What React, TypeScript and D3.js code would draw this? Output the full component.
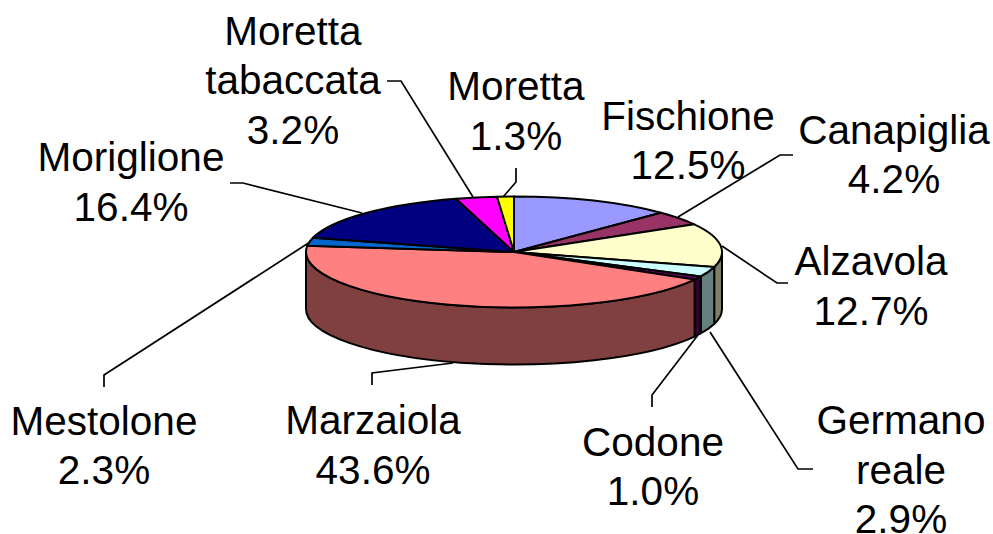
import React from "react";
import * as d3 from "d3";

const W = 993;
const H = 534;

const species = ["Fischione", "Canapiglia", "Alzavola", "Germano reale", "Codone", "Marzaiola", "Mestolone", "Moriglione", "Moretta tabaccata", "Moretta"];
const shares = [12.5, 4.2, 12.7, 2.9, 1.0, 43.6, 2.3, 16.4, 3.2, 1.3];
const topColors = ["#9999ff", "#993366", "#ffffcc", "#ccffff", "#660066", "#ff8080", "#0066cc", "#000080", "#ff00ff", "#ffff00"];

// label text layout: lines per species, centre x, first baseline y
const labelLines = [["Fischione", "12.5%"], ["Canapiglia", "4.2%"], ["Alzavola", "12.7%"], ["Germano", "reale", "2.9%"], ["Codone", "1.0%"], ["Marzaiola", "43.6%"], ["Mestolone", "2.3%"], ["Moriglione", "16.4%"], ["Moretta", "tabaccata", "3.2%"], ["Moretta", "1.3%"]];
const labelX = [688, 894, 871, 901, 653, 373, 104, 131, 293, 516];
const labelY = [129.5, 143.5, 275, 434, 455.5, 434, 434.5, 171, 44.5, 100];

// leader lines, from the pie rim out to the label
const leaders = [
  null,
  [[678, 217], [780, 155], [793, 155]],
  [[722, 246], [777, 283], [788, 283]],
  [[710, 332], [798, 469], [813, 469]],
  [[698, 335], [652, 395], [652, 407]],
  [[453, 363], [372, 373], [372, 385]],
  [[310, 242], [104, 375], [104, 387]],
  [[362, 213], [243, 183], [230, 183]],
  [[473, 197], [401, 81], [387, 81]],
  [[503, 197], [516, 182], [516, 168]],
];

const cx = 514;
const cy = 252;
const rx = 208;
const ry = 55.5;
const depth = 57;
const lineHeight = 49.5;

const shade = (c: string) => {
  const { r, g, b } = d3.rgb(c);
  return d3.rgb(r / 2, g / 2, b / 2).formatHex();
};

export default function App() {
  const slices = d3.pie<number>().sort(null).value((d) => d)(shares);
  const arc = d3.arc<d3.PieArcDatum<number>>().innerRadius(0).outerRadius(rx);

  const px = (a: number) => cx + rx * Math.sin(a);
  const py = (a: number) => cy - ry * Math.cos(a);

  // outer wall, only the part of each slice facing the viewer
  const wall = (d: d3.PieArcDatum<number>) => {
    const a0 = Math.max(d.startAngle, Math.PI / 2);
    const a1 = Math.min(d.endAngle, (3 * Math.PI) / 2);
    if (a1 <= a0) return null;
    return `M${px(a0)},${py(a0)}A${rx},${ry} 0 0 1 ${px(a1)},${py(a1)}L${px(a1)},${py(a1) + depth}A${rx},${ry} 0 0 0 ${px(a0)},${py(a0) + depth}Z`;
  };
  const leaderLine = d3.line();

  return (
    <svg width={W} height={H} style={{ position: "absolute", left: 0, top: 0, background: "#fff" }}>
      {slices.map((d, i) => {
        const p = wall(d);
        return p ? <path key={i} d={p} fill={shade(topColors[i])} stroke="#000" strokeWidth={2} strokeLinejoin="round" /> : null;
      })}
      <g transform={`translate(${cx},${cy}) scale(1,${ry / rx})`}>
        {slices.map((d, i) => (
          <path key={i} d={arc(d) as string} fill={topColors[i]} stroke="#000" strokeWidth={2} strokeLinejoin="round" vectorEffect="non-scaling-stroke" />
        ))}
      </g>
      {leaders.map((l, i) =>
        l ? <path key={species[i]} d={leaderLine(l as [number, number][]) as string} fill="none" stroke="#000" strokeWidth={1.7} /> : null
      )}
      {labelLines.map((lines, i) => (
        <text key={species[i]} textAnchor="middle" fontFamily="Liberation Sans" fontSize={40.5} fill="#000">
          {lines.map((t, j) => (
            <tspan key={j} x={labelX[i]} y={labelY[i] + j * lineHeight}>{t}</tspan>
          ))}
        </text>
      ))}
    </svg>
  );
}
